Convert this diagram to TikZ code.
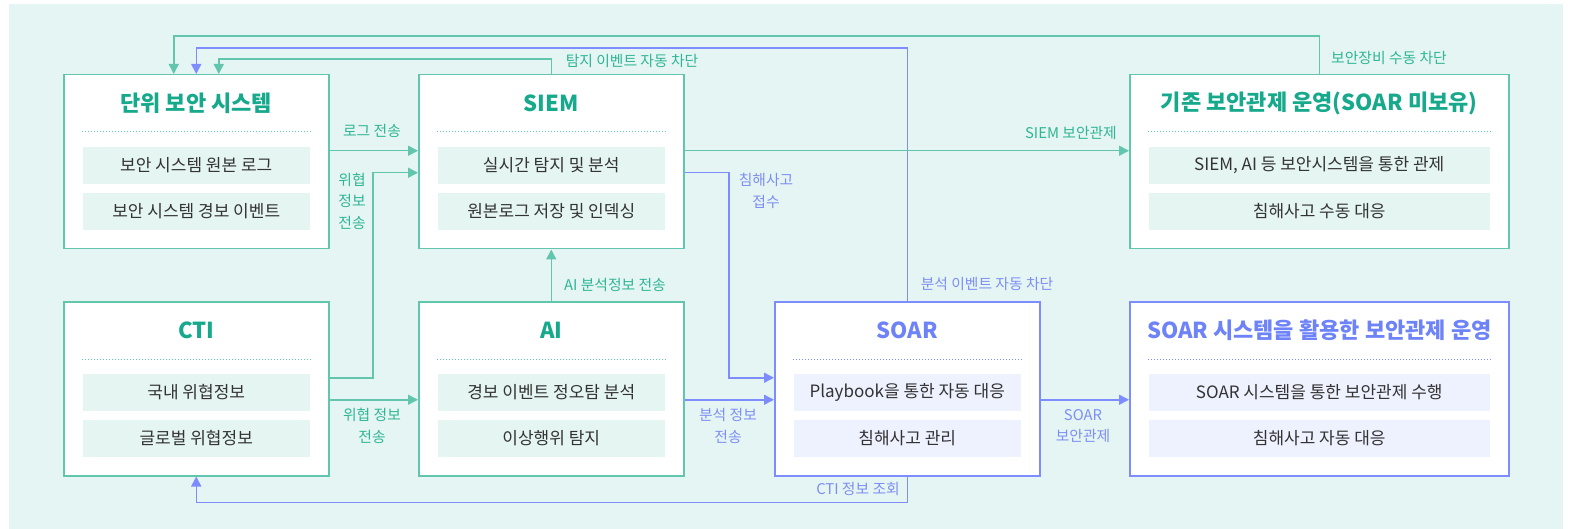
\documentclass[tikz,border=0pt]{standalone}
\usepackage{fontspec}
\setmainfont{Noto Sans CJK KR}
\usetikzlibrary{arrows.meta,calc}
\definecolor{bg}{HTML}{E5F5F3}
\definecolor{gline}{HTML}{62C6AE}
\definecolor{gtitle}{HTML}{17A98B}
\definecolor{gfill}{HTML}{E4F5F2}
\definecolor{glab}{HTML}{2FB595}
\definecolor{bline}{HTML}{7D8CFF}
\definecolor{btitle}{HTML}{6E83F8}
\definecolor{bfill}{HTML}{EEF1FE}
\definecolor{blab}{HTML}{7D8EF5}
\definecolor{txt}{HTML}{333333}
\newcommand\diabox[8]{%
 \node[#5box, minimum width=#4, minimum height=174, anchor=north west] (#1) at (#2,#3) {};
 \node[#5title] (#1-t) at ($(#1.north)+(0,29)$) {#6};
 \draw[#5dot] ($(#1.north west)+(19,58)$) -- ($(#1.north east)+(-19,58)$);
 \node[#5item, minimum width=#4-38] (#1-a) at ($(#1.north)+(0,91.5)$) {#7};
 \node[#5item, minimum width=#4-38] (#1-b) at ($(#1.north)+(0,137.5)$) {#8};
}
\begin{document}
\begin{tikzpicture}[x=1pt,y=-1pt,
  gbox/.style={draw=gline, fill=white, line width=1.5pt, inner sep=0pt},
  bbox/.style={draw=bline, fill=white, line width=1.5pt, inner sep=0pt},
  gtitle/.style={text=gtitle, inner sep=0pt, font=\fontsize{22}{26}\selectfont\bfseries},
  btitle/.style={text=btitle, inner sep=0pt, font=\fontsize{22}{26}\selectfont\bfseries},
  gdot/.style={draw=gline, line width=1pt, dash pattern=on 1pt off 2pt},
  bdot/.style={draw=bline, line width=1pt, dash pattern=on 1pt off 2pt},
  gitem/.style={fill=gfill, minimum height=37, inner sep=0pt, text=txt, font=\fontsize{17}{20}\selectfont},
  bitem/.style={fill=bfill, minimum height=37, inner sep=0pt, text=txt, font=\fontsize{17}{20}\selectfont},
  garrow/.style={draw=gline, line width=1.5pt, -{Triangle[length=10pt,width=10pt]}},
  barrow/.style={draw=bline, line width=1.5pt, -{Triangle[length=10pt,width=10pt]}},
  glabel/.style={text=glab, inner sep=0pt, align=center, font=\fontsize{14.8}{21.5}\selectfont},
  blabel/.style={text=blab, inner sep=0pt, align=center, font=\fontsize{14.8}{21.5}\selectfont}]
\useasboundingbox (0,0) rectangle (1571,529);
\fill[bg] (9,4) rectangle (1563,529);

\diabox{unit}{63}{74}{265}{g}{단위 보안 시스템}{보안 시스템 원본 로그}{보안 시스템 경보 이벤트}
\diabox{siem}{418}{74}{265}{g}{SIEM}{실시간 탐지 및 분석}{원본로그 저장 및 인덱싱}
\diabox{old}{1129}{74}{379}{g}{기존 보안관제 운영(SOAR 미보유)}{SIEM, AI 등 보안시스템을 통한 관제}{침해사고 수동 대응}
\diabox{cti}{63}{301}{265}{g}{CTI}{국내 위협정보}{글로벌 위협정보}
\diabox{ai}{418}{301}{265}{g}{AI}{경보 이벤트 정오탐 분석}{이상행위 탐지}
\diabox{soar}{774}{301}{265}{b}{SOAR}{Playbook을 통한 자동 대응}{침해사고 관리}
\diabox{soarsys}{1129}{301}{379}{b}{SOAR 시스템을 활용한 보안관제 운영}{SOAR 시스템을 통한 보안관제 수행}{침해사고 자동 대응}

% blue connectors
\draw[barrow] ($(siem.east)+(0,11)$) -| ($(soar.west)+(-45,-11)$) -- ($(soar.west)+(0,-11)$);
\draw[barrow] ($(ai.east)+(0,11)$) -- ($(soar.west)+(0,11)$);
\draw[barrow] (soar.north) -- ++(0,-253) -| (unit.north);
\draw[barrow] (soar.south) -- ++(0,26) -| (cti.south);
\draw[barrow] ($(soar.east)+(0,11)$) -- ($(soarsys.west)+(0,11)$);

% green connectors
\draw[garrow] ($(unit.east)+(0,-11)$) -- ($(siem.west)+(0,-11)$);
\draw[garrow] ($(cti.east)+(0,-11)$) -| ($(siem.west)+(-45,11)$) -- ($(siem.west)+(0,11)$);
\draw[garrow] ($(cti.east)+(0,11)$) -- ($(ai.west)+(0,11)$);
\draw[garrow] (ai.north) -- (siem.south);
\draw[garrow] (siem.north) -- ++(0,-15) -| ($(unit.north)+(22.5,0)$);
\draw[garrow] ($(siem.east)+(0,-11)$) -- ($(old.west)+(0,-11)$);
\draw[garrow] (old.north) -- ++(0,-38) -| ($(unit.north)+(-22.5,0)$);

% labels
\node[glabel] (l1) at (372,131) {로그 전송};
\node[glabel] (l2) at (352,201) {위협\\정보\\전송};
\node[glabel] (l3) at (372,426) {위협 정보\\전송};
\node[glabel] (l4) at (615,285) {AI 분석정보 전송};
\node[glabel] (l5) at (632,61) {탐지 이벤트 자동 차단};
\node[glabel] (l6) at (1071,133) {SIEM 보안관제};
\node[glabel] (l7) at (1389,58) {보안장비 수동 차단};
\node[blabel] (l8) at (766,191) {침해사고\\접수};
\node[blabel] (l9) at (728,426) {분석 정보\\전송};
\node[blabel] (l10) at (987,284) {분석 이벤트 자동 차단};
\node[blabel] (l11) at (858,489) {CTI 정보 조회};
\node[blabel] (l12) at (1083,426) {SOAR\\보안관제};
\end{tikzpicture}
\end{document}
